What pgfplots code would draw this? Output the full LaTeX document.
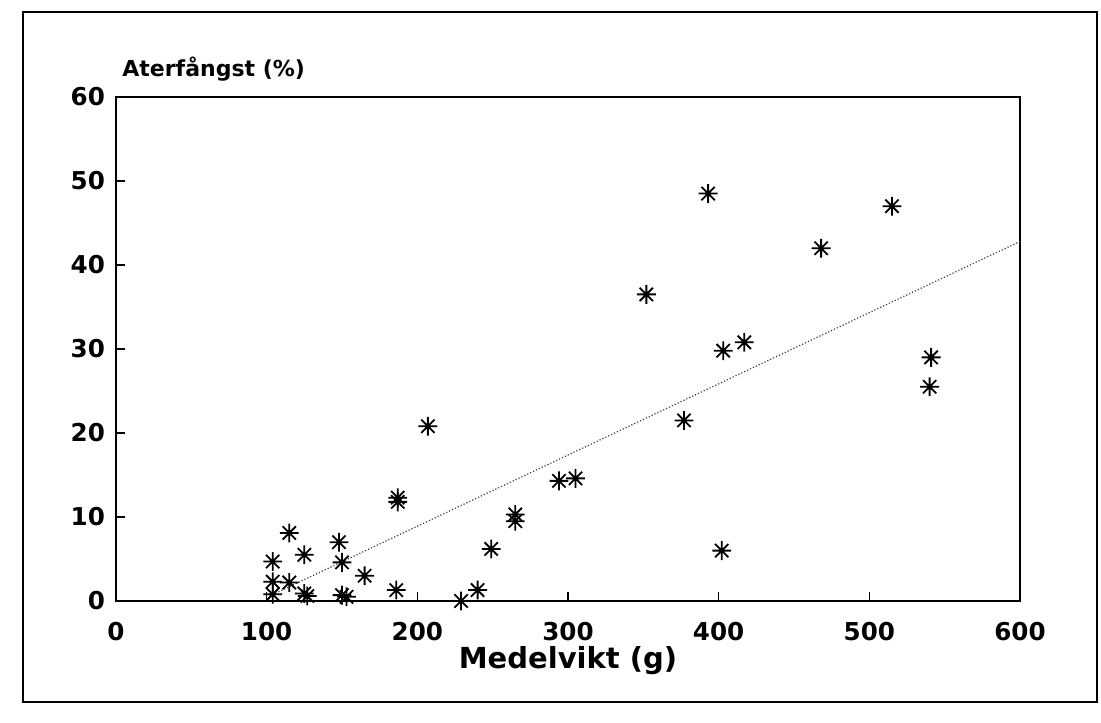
\documentclass[border=0pt]{standalone}
\usepackage{fontspec}
\setmainfont{DejaVu Sans}
\usepackage{pgfplots}
\pgfplotsset{compat=1.18}
\pgfdeclareplotmark{ast8}{%
  \pgfpathmoveto{\pgfqpoint{-\pgfplotmarksize}{0pt}}\pgfpathlineto{\pgfqpoint{\pgfplotmarksize}{0pt}}%
  \pgfpathmoveto{\pgfqpoint{0pt}{-\pgfplotmarksize}}\pgfpathlineto{\pgfqpoint{0pt}{\pgfplotmarksize}}%
  \pgfpathmoveto{\pgfqpoint{-0.7071\pgfplotmarksize}{-0.7071\pgfplotmarksize}}\pgfpathlineto{\pgfqpoint{0.7071\pgfplotmarksize}{0.7071\pgfplotmarksize}}%
  \pgfpathmoveto{\pgfqpoint{-0.7071\pgfplotmarksize}{0.7071\pgfplotmarksize}}\pgfpathlineto{\pgfqpoint{0.7071\pgfplotmarksize}{-0.7071\pgfplotmarksize}}%
  \pgfusepathqstroke}
\begin{document}
\begin{tikzpicture}
\useasboundingbox (-58pt,-60.5pt) rectangle (492.5pt,300.5pt);
\draw[line width=1pt] (-46.5pt,-50.5pt) rectangle (490.5pt,294.5pt);
\begin{axis}[
  at={(0pt,0pt)}, anchor=south west,
  scale only axis, width=452pt, height=252pt,
  xmin=0, xmax=600, ymin=0, ymax=60,
  xtick={0,100,...,600}, ytick={0,10,...,60},
  tick align=inside, xtick pos=bottom, ytick pos=left,
  major tick length=4.5pt,
  axis line style={line width=0.9pt},
  every tick/.style={black, line width=0.8pt},
  /pgf/number format/assume math mode=true,
  ticklabel style={font=\fontsize{12.3}{14}\selectfont\bfseries},
  xticklabel style={yshift=-7pt},
  yticklabel style={xshift=-2pt},
  clip=false,
]
\addplot[black!75, densely dotted, line width=0.6pt] coordinates {(102,0.6) (600,42.8)};
\addplot[only marks, mark=ast8, mark size=4.7pt, mark options={line width=0.9pt, black}] coordinates {
(104,4.7) (104,2.3) (104,0.8) (115,2.2) (115,8.1) (125,5.5) (125,0.9) (127,0.6)
(148,7.0) (150,4.6) (150,0.7) (153,0.5) (165,3.0) (187,12.3) (187,11.8) (186,1.3)
(207,20.8) (229,0.0) (240,1.3) (249,6.2) (265,10.3) (265,9.5) (294,14.3) (305,14.6)
(352,36.5) (377,21.5) (393,48.5) (402,6.0) (403,29.8) (417,30.8) (468,42.0) (515,47.0)
(541,29.0) (540,25.5)
};
\node[anchor=base west, inner sep=0pt, font=\fontsize{11}{14}\selectfont\bfseries] at ([xshift=3pt,yshift=10pt]rel axis cs:0,1) {Aterfångst (\%)};
\node[font=\fontsize{14.5}{18}\selectfont\bfseries] at ([yshift=-30pt]rel axis cs:0.5,0) {Medelvikt (g)};
\end{axis}
\end{tikzpicture}
\end{document}
